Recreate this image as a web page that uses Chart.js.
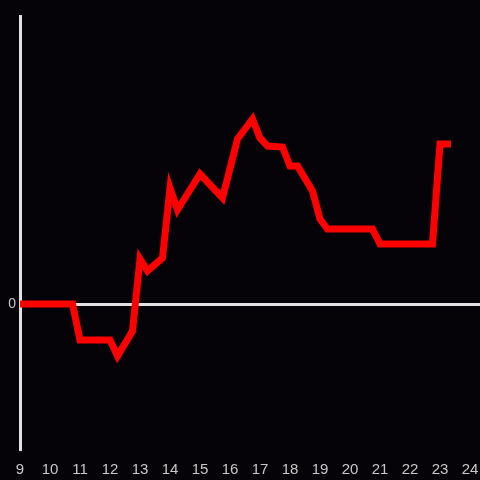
<!DOCTYPE html>
<html lang="en">
<head>
    <meta charset="UTF-8">
    <title>Line chart</title>
    <script src="https://cdn.jsdelivr.net/npm/chart.js"></script>
    <style>
        html, body { margin: 0; padding: 0; background: #050307; }
        #wrap { width: 480px; height: 480px; }
    </style>
</head>
<body>
    <div id="wrap"><canvas id="myChart" width="480" height="480"></canvas></div>
    <script>
        // hour of day and value
        const hours = [9, 10.75, 11, 12, 12.25, 12.75, 13, 13.25, 13.75, 14, 14.25, 15, 15.75, 16.25, 16.75, 17, 17.25, 17.75, 18, 18.25, 18.75, 19, 19.25, 20.75, 21, 22.75, 23, 23.25];
        const values = [0, 0, -3.6, -3.6, -5.2, -2.7, 4.5, 3.3, 4.6, 11.6, 9.4, 13.0, 10.6, 16.5, 18.5, 16.6, 15.8, 15.7, 13.8, 13.8, 11.3, 8.5, 7.5, 7.5, 6.0, 6.0, 16.0, 16.0];
        const xTicks = [9, 10, 11, 12, 13, 14, 15, 16, 17, 18, 19, 20, 21, 22, 23, 24];
        const yTicks = [0];

        const axisColor = '#e2e2e2';
        const labelColor = '#c8c8c8';
        const font = 'Liberation Sans, Arial, sans-serif';

        new Chart(document.getElementById('myChart').getContext('2d'), {
            type: 'line',
            data: {
                datasets: [{
                    data: hours.map((h, i) => ({ x: h, y: values[i] })),
                    borderColor: '#ff0000',
                    borderWidth: 7,
                    borderCapStyle: 'square',
                    pointRadius: 0,
                    tension: 0,
                    fill: false
                }]
            },
            options: {
                responsive: false,
                animation: false,
                layout: { padding: { top: 16, right: 0, left: 0, bottom: 0 } },
                plugins: { legend: { display: false }, tooltip: { enabled: false } },
                scales: {
                    x: {
                        type: 'linear',
                        min: 9,
                        max: 24 + 1 / 3,
                        afterBuildTicks: s => { s.ticks = xTicks.map(v => ({ value: v })); },
                        afterFit: s => { s.height = 31; s.paddingLeft = 0; s.paddingRight = 0; },
                        grid: { display: false },
                        border: { display: false },
                        ticks: {
                            color: labelColor,
                            font: { family: font, size: 15 },
                            padding: 4,
                            maxRotation: 0,
                            autoSkip: false
                        }
                    },
                    y: {
                        min: -14.5,
                        max: 28.8,
                        afterBuildTicks: s => { s.ticks = yTicks.map(v => ({ value: v })); },
                        afterFit: s => { s.width = 20; s.paddingTop = 0; s.paddingBottom = 0; },
                        grid: {
                            drawTicks: false,
                            color: axisColor,
                            lineWidth: 3
                        },
                        border: { display: true, color: axisColor, width: 3 },
                        ticks: {
                            color: labelColor,
                            font: { family: font, size: 14 },
                            padding: 4
                        }
                    }
                }
            }
        });
    </script>
</body>
</html>
